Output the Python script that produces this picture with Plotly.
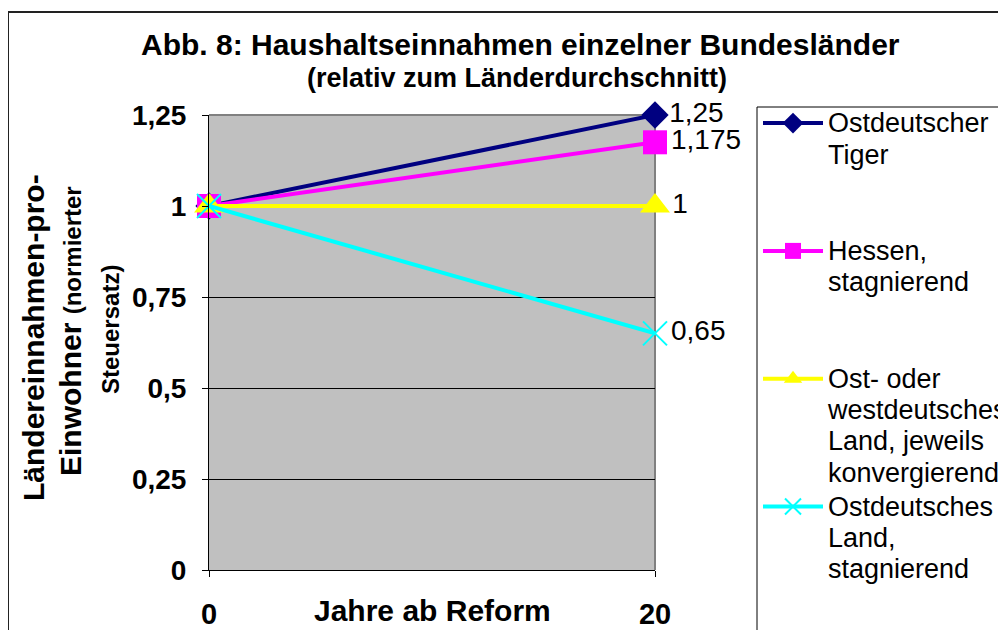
import plotly.graph_objects as go

years = [0, 20]
tiger = [1, 1.25]
hessen = [1, 1.175]
konvergierend = [1, 1]
stagnierend = [1, 0.65]

legend_lines = [
    ["Ostdeutscher", "Tiger", " ", " "],
    ["Hessen,", "stagnierend", " ", " "],
    ["Ost- oder", "westdeutsches", "Land, jeweils", "konvergierend"],
    ["Ostdeutsches", "Land,", "stagnierend", " "],
]
y_ticks = [0, 0.25, 0.5, 0.75, 1, 1.25]
y_ticktext = ["0", "0,25", "0,5", "0,75", "1", "1,25"]
x_ticks = [0, 20]

FONT = "Arial, Liberation Sans, sans-serif"

# the page adds 8px around the figure, so the plot area (209..655, 115..570
# in the reference) sits at 201..647, 107..562 inside the figure
def px_x(p):
    return (p - 209) / 446


def px_y(p):
    return (570 - p) / 455


def label(v):
    return "{:g}".format(v).replace(".", ",")


def legend_name(lines):
    return "<br>".join("<span style='font-size:27px'>%s</span>" % s for s in lines)


series = [
    (tiger, "#000080", dict(symbol="diamond", size=21)),
    (hessen, "#FF00FF", dict(symbol="square", size=24)),
    (konvergierend, "#FFFF00", dict(symbol="triangle-up", size=26)),
    (stagnierend, "#00FFFF", dict(symbol="x-thin-open", size=24, line=dict(width=2, color="#00FFFF"))),
]

fig = go.Figure()
for i, (vals, color, marker) in enumerate(series):
    fig.add_trace(go.Scatter(
        x=years, y=vals, name=legend_name(legend_lines[i]), legendgroup=str(i),
        mode="lines+markers+text",
        line=dict(color=color, width=4),
        marker=dict(color=color, **marker),
        text=[""] + [label(v) for v in vals[1:]],
        textposition="middle right",
        textfont=dict(family=FONT, size=28, color="black"),
        cliponaxis=False,
    ))

# outer chart frame
fig.add_shape(type="rect", xref="paper", yref="paper",
              x0=px_x(8), x1=px_x(1030), y0=px_y(660), y1=px_y(12),
              line=dict(color="#222222", width=2), layer="below")
# grey top and right edge of the plot area
fig.add_shape(type="line", xref="paper", yref="paper", x0=0, x1=1, y0=1, y1=1,
              line=dict(color="#808080", width=2), layer="between")
fig.add_shape(type="line", xref="paper", yref="paper", x0=1, x1=1, y0=0, y1=1,
              line=dict(color="#808080", width=2), layer="between")
# legend box, running off the right and bottom edge like in the original
fig.add_shape(type="rect", xref="paper", yref="paper",
              x0=px_x(757), x1=px_x(1030), y0=px_y(660), y1=px_y(107),
              line=dict(color="black", width=1), fillcolor="white", layer="above")


def note(text, x, y, size, angle=0):
    fig.add_annotation(text=text, xref="paper", yref="paper", x=px_x(x), y=px_y(y),
                       xanchor="center", yanchor="middle", textangle=angle,
                       showarrow=False, font=dict(family=FONT, size=size, color="black"))


note("<b>Abb. 8: Haushaltseinnahmen einzelner Bundesländer</b>", 520, 44, 30)
note("<b>(relativ zum Länderdurchschnitt)</b>", 517, 78, 27)
note("<b>Jahre ab Reform</b>", 432, 610, 30)

# y axis title, three rotated lines
note("<b>Ländereinnahmen-pro-</b>", 33, 338, 30, -90)
note("<b>Einwohner <span style='font-size:24px'>(normierter</span></b>", 70, 331, 30, -90)
note("<b>Steuersatz)</b>", 110, 330, 24, -90)

fig.update_xaxes(range=[0, 20], tickvals=x_ticks, ticks="outside", ticklen=6,
                 tickcolor="black", showline=True, linecolor="black", linewidth=1,
                 showgrid=False, zeroline=False, ticklabelstandoff=12, automargin=False,
                 tickfont=dict(family=FONT, size=29, color="black", weight="bold"))
fig.update_yaxes(range=[0, 1.25], tickvals=y_ticks, ticktext=y_ticktext, ticks="outside",
                 ticklen=6, tickcolor="black", showline=True, linecolor="black", linewidth=1,
                 showgrid=True, gridcolor="black", gridwidth=1, zeroline=False,
                 ticklabelstandoff=10, automargin=False,
                 tickfont=dict(family=FONT, size=28, color="black", weight="bold"))

fig.update_layout(
    width=1006, height=630,
    margin=dict(l=201, r=359, t=107, b=68, autoexpand=False),
    plot_bgcolor="#C0C0C0", paper_bgcolor="white",
    font=dict(family=FONT, color="black"),
    showlegend=True,
    legend=dict(x=px_x(758), y=px_y(101), xanchor="left", yanchor="top",
                xref="paper", yref="paper", maxheight=700,
                bgcolor="rgba(0,0,0,0)", borderwidth=0,
                font=dict(family=FONT, size=24, color="black"),
                valign="top", tracegroupgap=0, itemwidth=60),
)

fig.write_html("out.html")
